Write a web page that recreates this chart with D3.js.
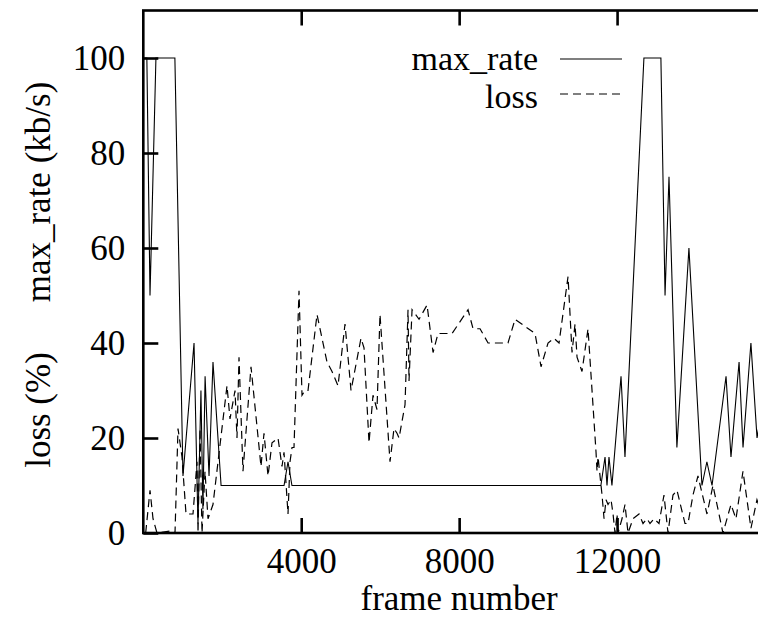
<!DOCTYPE html>
<html>
<head>
<meta charset="utf-8">
<script src="https://cdn.jsdelivr.net/npm/d3@7"></script>
<style>
  html, body { margin: 0; padding: 0; background: #fff; overflow: hidden; }
  svg { display: block; }
  text { font-family: "Liberation Serif", "Times New Roman", serif; fill: #000; }
</style>
</head>
<body>
<script>
// ---- data ----
const xTicks = [4000, 8000, 12000];
const xTickLabels = ["4000", "8000", "12000"];
const yTicks = [0, 20, 40, 60, 80, 100];
const yTickLabels = ["0", "20", "40", "60", "80", "100"];

const maxRateFrames = [30, 90, 170, 320, 800, 1005, 1285, 1385, 1460, 1510, 1565, 1665, 1765, 1970, 3565, 3665, 3765,
  11590, 11695, 11745, 11795, 11870, 12100, 12200, 12680, 13110, 13215, 13315, 13515, 13820, 14150, 14275, 14405,
  14760, 14885, 15090, 15190, 15390, 15545, 15700];
const maxRateValues = [100, 100, 50, 100, 100, 12, 40, 2, 30, 5, 33, 12, 36, 10, 10, 15, 10,
  10, 16, 10, 16, 10, 33, 16, 100, 100, 50, 75, 18, 60, 10, 15, 10,
  33, 16, 36, 18, 40, 20, 28];

const lossFrames = [60, 170, 246, 347, 727, 803, 879, 980, 1082, 1259, 1360, 1386, 1436, 1487, 1563, 1639, 1765,
  2120, 2196, 2323, 2373, 2424, 2525, 2728, 2981, 3057, 3159, 3260, 3412, 3513, 3564, 3665, 3716, 3767, 3817,
  3944, 4020, 4096, 4172, 4400, 4653, 4780, 4932, 5109, 5261, 5514, 5590, 5717, 5818, 5919, 5995,
  6249, 6350, 6426, 6477, 6629, 6705, 6730, 6807, 6984, 7187, 7339, 7465, 7592, 7820, 8225, 8352, 8529,
  8732, 9238, 9416, 9922, 10074, 10251, 10403, 10530, 10758, 10859, 10935, 10986, 11112, 11264,
  11467, 11492, 11518, 11619, 11670, 11720, 11771, 11847, 11898, 11948, 11999, 12024, 12125, 12201,
  12277, 12404, 12556, 12657, 12758, 12834, 12935, 13062, 13188, 13290, 13416, 13517, 13720, 13796,
  13923, 14049, 14277, 14429, 14682, 14885, 15012, 15189, 15391, 15543, 15700];
const lossValues = [0, 9, 3, 0, 0.5, 0, 22, 16, 4, 4, 15, 0, 22, 0, 13, 3, 6,
  31, 24, 30, 20, 37, 13, 35, 14, 21, 12, 19, 20, 14, 17, 4, 15, 18, 18,
  51, 29, 30, 30, 46, 36, 34, 31, 44, 30, 41, 39, 19, 29, 26, 46,
  15, 22, 21, 20, 27, 47, 32, 47, 45, 48, 38, 42, 42, 42, 47, 43, 43,
  40, 40, 45, 42, 35, 40, 41, 40, 54, 38, 44, 37, 34, 43,
  17, 13, 16, 8, 3, 7, 6, 7, 4, 0, 4, 0, 3, 6,
  0, 3, 4, 2, 3, 2, 3, 2, 8, 0, 8, 9, 2, 2,
  8, 12, 4, 10, 0, 6, 3, 13, 1, 7, 3];

const seriesNames = ["max_rate", "loss"];
const yTitles = ["max_rate (kb/s)", "loss (%)"];
const xTitle = "frame number";

// ---- layout ----
const W = 758, H = 617;
const mLeft = 143.3, mRight = 775, mTop = 10.5, mBottom = 533;
const FS = 35;

const svg = d3.select("body").append("svg").attr("width", W).attr("height", H);

const x = d3.scaleLinear().domain([0, 16000]).range([mLeft, mRight]);
const y = d3.scaleLinear().domain([0, 110]).range([mBottom, mTop]);

svg.append("clipPath").attr("id", "plotclip")
  .append("rect").attr("x", mLeft).attr("y", mTop).attr("width", mRight - mLeft).attr("height", mBottom - mTop);

const line = d3.line().x(d => x(d[0])).y(d => y(d[1]));

const maxRate = maxRateFrames.map((f, i) => [f, maxRateValues[i]]);
const loss = lossFrames.map((f, i) => [f, lossValues[i]]);

const plot = svg.append("g").attr("clip-path", "url(#plotclip)");
plot.append("path").datum(maxRate).attr("d", line)
  .attr("fill", "none").attr("stroke", "#000").attr("stroke-width", 1.1);
plot.append("path").datum(loss).attr("d", line)
  .attr("fill", "none").attr("stroke", "#000").attr("stroke-width", 1.2)
  .attr("stroke-dasharray", "8,5");

// ---- axes ----
function styleAxis(g) {
  g.select(".domain").remove();
  g.selectAll(".tick line").attr("stroke", "#000").attr("stroke-width", 2.6);
  g.selectAll(".tick text").attr("font-size", FS).attr("font-family", "Liberation Serif, serif").attr("fill", "#000");
}

svg.append("g").attr("transform", `translate(${mLeft},0)`)
  .call(d3.axisLeft(y).tickValues(yTicks).tickFormat((d, i) => yTickLabels[i]).tickSizeInner(-15).tickSizeOuter(0).tickPadding(18))
  .call(styleAxis)
  .selectAll(".tick text").attr("dy", "0.33em");

svg.append("g").attr("transform", `translate(${mRight},0)`)
  .call(d3.axisRight(y).tickValues(yTicks).tickFormat("").tickSizeInner(-15).tickSizeOuter(0))
  .call(styleAxis);

svg.append("g").attr("transform", `translate(0,${mBottom})`)
  .call(d3.axisBottom(x).tickValues(xTicks).tickFormat((d, i) => xTickLabels[i]).tickSizeInner(-15).tickSizeOuter(0).tickPadding(15))
  .call(styleAxis);

svg.append("g").attr("transform", `translate(0,${mTop})`)
  .call(d3.axisTop(x).tickValues(xTicks).tickFormat("").tickSizeInner(-15).tickSizeOuter(0))
  .call(styleAxis);

// border
svg.append("rect").attr("x", mLeft).attr("y", mTop).attr("width", mRight - mLeft).attr("height", mBottom - mTop)
  .attr("fill", "none").attr("stroke", "#000").attr("stroke-width", 2.6);

// titles
svg.append("text").attr("x", (mLeft + mRight) / 2).attr("y", 610).attr("text-anchor", "middle")
  .attr("font-size", FS).text(xTitle);
svg.append("text").attr("transform", "translate(50,192) rotate(-90)").attr("text-anchor", "middle")
  .attr("font-size", FS).text(yTitles[0]);
svg.append("text").attr("transform", "translate(50,410) rotate(-90)").attr("text-anchor", "middle")
  .attr("font-size", FS).text(yTitles[1]);

// legend
const legendY = [59, 94];
const legendBase = [70, 108];
const legend = svg.append("g");
seriesNames.forEach((name, i) => {
  legend.append("text").attr("x", 538).attr("y", legendBase[i]).attr("text-anchor", "end")
    .attr("font-size", 34).text(name);
  const l = legend.append("line").attr("x1", 560).attr("x2", 622).attr("y1", legendY[i]).attr("y2", legendY[i])
    .attr("stroke", "#000").attr("stroke-width", 1.1);
  if (i === 1) l.attr("stroke-dasharray", "8,5");
});
</script>
</body>
</html>
